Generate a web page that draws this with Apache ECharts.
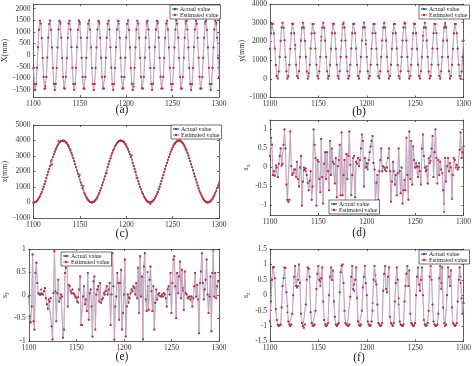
<!DOCTYPE html>
<html><head><meta charset="utf-8">
<script src="https://cdn.jsdelivr.net/npm/echarts@6/dist/echarts.min.js"></script>
<style>html,body{margin:0;padding:0;background:#fff}#c{width:474px;height:366px}</style>
</head><body><div id="c"></div>
<script>
// ---------- data ----------
const startTime = 1100;           // first sample index
const xTickValues = [1100, 1150, 1200, 1250, 1300];

const xActual = [-560,-1230,
-1490,-1245,-540,340,1095,1480,1360,742,-120,-928,-1440,-1425,-942,-105,758,1345,1490,1092,326,-555,-1232,
-1497,-1236,-552,329,1108,1476,1349,755,-108,-940,-1428,-1437,-930,-118,746,1358,1479,1106,338,-541,-1244,
-1502,-1230,-545,336,1097,1486,1344,748,-115,-932,-1436,-1430,-938,-109,753,1350,1485,1098,331,-551,-1236,
-1495,-1242,-556,330,1103,1481,1355,745,-110,-937,-1431,-1439,-933,-114,748,1354,1482,1103,336,-546,-1240,
-1498,-1237,-549,338,1099,1484,1350,752,-117,-930,-1434,-1428,-936,-111,755,1347,1487,1096,329,-553,-1234,
-1503,-1241,-544,332,1105,1479,1357,747,-113,-939,-1429,-1435,-931,-116,751,1353,1480,1101,334,-548,-1238,
-1496,-1235,-551,335,1101,1482,1346,754,-109,-934,-1437,-1431,-940,-107,749,1356,1484,1099,327,-544,-1243,
-1500,-1239,-547,331,1098,1485,1352,750,-119,-936,-1432,-1434,-935,-112,752,1349,1481,1104,333,-550,-1237,
-1494,-1240,-553,337,1102,1478,1354,746,-111,-933,-1430,-1436,-937,-110,747,1351,1486,1097,330,-547,-1241,
-1499,-1238,-546,333,1104,1483,1348,751,-114,-938];
const xEstChanges = [[1113,-1330],[1129,1420],[1150,1420],[1171,1440],[1192,1470],[1208,-1360],[1222,1440],[1234,1440],[1264,1450],[1285,1430],[1297,1420]];

const yActual = [1605,2441,
2925,2940,2428,1620,742,155,22,393,1172,2041,2746,2992,2733,2055,1159,407,12,143,757,1606,2442,
2938,2927,2441,1605,756,141,25,406,1160,2053,2731,2996,2745,2040,1173,395,19,152,745,1618,2429,
2930,2936,2432,1616,748,150,14,398,1168,2045,2742,3004,2736,2051,1162,403,21,146,753,1609,2438,
2941,2929,2438,1608,753,144,20,404,1163,2050,2735,2995,2741,2044,1170,398,15,151,747,1615,2432,
2927,2938,2430,1614,745,153,17,397,1169,2043,2744,3001,2738,2049,1164,405,18,148,755,1610,2440,
2936,2931,2440,1607,751,146,23,402,1165,2047,2737,2997,2743,2046,1167,400,13,154,749,1613,2434,
2929,2935,2433,1617,744,151,16,399,1171,2042,2740,3003,2735,2052,1161,404,20,145,752,1608,2437,
2939,2928,2436,1611,754,147,21,401,1164,2049,2745,2994,2740,2043,1169,397,14,150,746,1616,2431,
2932,2937,2439,1606,747,152,18,405,1167,2044,2738,2999,2737,2048,1166,402,22,147,751,1611,2436,
2934,2930,2431,1614,750,149,19,396,1170,2046];
const yEstChanges = [[1126,1800],[1140,300],[1153,2250],[1175,2900],[1199,1850],[1240,2950],[1258,2300],[1281,2850]];

const zActual = [5,-2,25,60,126,198,301,409,545,683,848,1012,1197,1379,1579,1771,1978,2173,2378,2567,
2763,2938,3117,3272,3426,3554,3678,3773,3863,3921,3972,3991,4002,3981,3952,3891,3823,3725,3621,3489,
3354,3194,3032,2849,2668,2470,2279,2072,1877,1672,1481,1284,1106,925,767,610,478,350,250,157,93,37,13,-3,
12,37,93,157,250,350,478,610,767,925,1106,1284,1481,1672,1877,2072,2279,2470,2668,2849,
3032,3194,3354,3489,3621,3725,3823,3891,3952,3981,4002,3991,3972,3921,3863,3773,3678,3554,3426,3272,
3117,2938,2763,2567,2378,2173,1978,1771,1579,1379,1197,1012,848,683,545,409,301,198,126,60,25,5,
1,24,61,125,199,300,410,544,684,847,1014,1195,1380,1578,1772,1976,2175,2377,2568,2762,
2940,3115,3274,3424,3556,3676,3775,3861,3923,3970,3993,4000,3983,3950,3893,3821,3727,3619,3491,3352,
3196,3030,2851,2666,2472,2277,2074,1875,1674,1479,1286,1104,927,765,612,476,352,248,159,91,39,11,1,
11,41,89,161,246,354,474,614,763,929,1102,1288];
const zEstChanges = [[1119,2700],[1120,2430],[1127,3960],[1150,1790],[1154,1050],[1179,1900],[1206,3050],[1211,1600],[1226,-90]];

const sxActual = [
0.30,0.78,0.60,-0.20,-0.10,-0.22,0.05,0.00,-0.25,0.10,
0.30,0.50,0.05,0.10,0.60,1.00,0.50,-0.45,-0.85,-0.90,
-0.85,0.95,0.03,-0.20,-0.15,-0.05,-0.05,-0.25,0.15,-0.30,
-0.50,0.00,0.30,-1.00,-0.37,0.00,-0.05,-0.10,-0.20,-0.40,
-0.60,-0.35,-0.10,-0.85,-0.50,1.00,0.60,0.25,-1.00,0.20,
0.15,-0.30,-0.65,0.75,-0.25,-0.95,0.10,0.40,-0.30,0.40,
-0.10,-0.60,0.70,-0.20,0.50,0.15,0.10,-0.42,0.25,-0.78,
0.03,0.20,0.60,-0.73,0.92,-0.73,-0.20,0.20,-0.90,0.35,
-0.30,0.30,0.95,0.07,-0.73,-0.20,0.25,0.30,-0.78,0.15,
0.10,0.25,0.03,0.20,0.50,0.87,0.70,-0.50,0.25,0.00,
0.12,-0.05,0.20,0.40,0.55,0.70,0.83,0.12,-0.05,-0.95,
-0.40,-0.20,-0.85,-0.10,0.20,0.50,-0.10,0.03,0.00,-0.05,
-0.10,0.00,0.25,0.50,-0.10,-0.90,-0.37,0.15,-0.10,-0.45,
-0.20,-0.73,-0.15,0.50,-0.10,-0.68,0.00,-0.95,-0.60,-0.33,
-0.60,0.78,-0.20,-0.85,0.95,-0.30,0.70,-0.45,0.55,0.20,
0.00,0.12,0.03,-0.25,0.12,-0.10,-0.45,0.50,0.87,0.30,
0.00,-0.10,0.03,-0.42,0.25,0.12,0.30,0.50,0.83,-0.25,
0.40,1.00,0.25,-0.42,0.20,-0.20,0.15,-0.05,-0.15,-0.60,
-0.95,0.25,-0.37,0.03,0.25,-0.10,0.12,0.00,-0.82,-0.20,
0.25,0.20,0.00,0.07,-0.05,0.00,0.47,0.92,0.25,0.40,
0.55];
const sxEstChanges = [[1135,-0.08],[1137,-0.02],[1200,0.02],[1201,0.10],[1251,0.00],[1254,0.02],[1262,-0.06],[1266,0.18],[1280,-1.17]];

const syActual = [
-0.03,-0.46,-0.60,-0.25,0.88,-0.57,-0.75,0.48,0.70,0.26,
0.04,0.02,0.00,0.04,0.02,0.01,0.08,0.15,-0.07,-0.20,
-0.30,-0.10,-0.14,-0.07,-0.68,-0.97,0.04,0.95,0.08,-0.57,
0.04,0.33,-0.14,-0.07,0.01,-0.03,-0.93,-0.75,0.48,0.59,
0.84,-0.25,0.22,0.19,0.08,0.04,0.12,0.03,0.01,-0.03,
-0.06,-0.14,-0.17,0.12,0.40,-0.65,-0.65,-0.03,0.19,-0.20,
-0.10,-0.35,0.48,-0.54,0.04,0.12,-0.25,-0.90,0.30,0.40,
-0.75,0.01,0.12,0.19,-0.14,0.26,-0.17,-0.10,-0.07,0.05,
0.01,0.08,0.19,0.01,0.12,0.26,-0.65,0.01,0.91,0.19,
-0.97,-0.25,-0.03,0.48,0.26,-0.54,0.26,0.55,-0.75,-0.39,
0.01,0.77,-0.90,-0.25,0.01,-0.17,-0.07,0.04,0.12,0.08,
0.19,0.15,0.01,0.26,-0.07,0.59,-0.39,0.84,-0.03,0.40,
-0.97,0.62,0.91,-0.10,-0.35,0.19,-0.32,0.33,0.62,0.08,
-0.35,0.19,-0.75,-0.17,0.12,-0.10,0.01,0.04,-0.02,-0.03,
0.01,-0.03,0.04,0.01,-0.07,-0.25,0.12,0.19,0.01,0.48,
-0.39,0.26,0.77,0.84,0.19,-0.50,0.48,0.04,0.40,0.73,
-0.07,0.55,0.15,-0.32,0.51,0.04,0.01,-0.07,-0.05,-0.03,
-0.10,-0.03,-0.25,-0.07,0.19,0.48,-0.03,0.22,-0.10,-0.83,
0.26,0.51,0.91,0.26,-0.10,0.12,0.33,0.77,0.01,-0.39,
-0.03,0.40,-0.79,0.48,0.98,-0.03,0.48,-0.07,0.19,0.30,
0.30];
const syEstChanges = [[1113,0.12],[1152,-0.05],[1205,-0.05],[1225,0.50],[1262,0.10]];

const szActual = [
-0.85,-0.20,0.50,0.90,0.92,0.55,-0.45,-0.80,-0.95,-1.00,
-0.97,-0.95,-0.40,0.30,0.55,0.90,0.88,0.10,-0.35,-0.85,
-0.95,-1.00,-0.95,-0.60,0.00,0.60,0.95,0.30,0.25,0.30,
1.00,0.40,-0.60,-0.90,-1.00,-1.05,-0.95,-0.30,0.50,0.90,
0.85,0.60,-0.55,-0.90,-0.97,-1.00,-0.95,-0.50,0.20,0.70,
0.95,0.50,0.30,0.55,0.90,-0.20,-0.80,-0.95,-1.00,-0.97,
-0.90,0.00,0.60,0.90,0.50,0.80,-0.20,-0.70,-0.95,-1.00,
-0.95,-0.90,0.10,0.75,0.95,1.00,0.40,-0.50,-0.90,-0.95,
-0.97,-1.00,-0.95,-0.05,0.60,0.95,0.20,0.15,0.50,0.90,
-0.10,-0.85,-0.97,-1.00,-0.95,-0.50,0.25,0.60,0.95,0.40,
0.00,-0.85,-0.95,-1.00,-0.97,-0.85,-0.25,0.50,0.95,0.65,
0.35,-0.30,-0.90,-0.95,-1.00,-0.97,-0.90,0.15,0.70,0.95,
0.20,0.10,0.60,0.90,-0.70,-0.90,-0.95,-1.00,-0.90,-0.20,
0.40,0.90,0.50,-0.30,-0.85,-0.95,-0.97,-1.00,-0.95,-0.20,
0.30,0.70,0.95,0.30,0.80,-0.60,-0.90,-0.95,-1.00,-0.97,
-0.90,0.00,0.60,0.90,0.35,0.15,0.50,0.90,0.00,-0.80,
-0.95,-1.00,-0.97,-0.90,-0.50,0.60,0.95,0.50,-0.30,-0.85,
-0.95,-1.00,-0.97,-0.95,-0.60,0.55,0.95,0.20,0.90,-0.40,
-0.90,-1.00,-0.95,0.00,0.90,0.60,0.30,0.80,-0.40,-0.90,
-0.95,-1.00,-0.97,-0.90,-0.20,0.50,0.90,0.60,-0.10,-0.60,
-0.25];
const szEstChanges = [[1118,-0.55],[1129,0.50],[1152,0.45],[1187,0.35],[1206,-0.50],[1209,0.45],[1233,-0.10],[1277,0.40],[1297,0.40]];

const yTicksA = [-1500,-1000,-500,0,500,1000,1500,2000];
const yTicksB = [-1000,0,1000,2000,3000,4000];
const yTicksC = [-1000,0,1000,2000,3000,4000,5000];
const yTicksD = [-1,-0.5,0,0.5,1];
const yTicksE = [-1,-0.5,0,0.5,1];
const yTicksF = [-1.5,-1,-0.5,0,0.5,1,1.5];
const seriesNames = ['Actual value', 'Estimated value'];
const captions = ['(a)','(b)','(c)','(d)','(e)','(f)'];
const axisNames = ['X(mm)','y(mm)','z(mm)','{m|s}{s|x}','{m|s}{s|y}','{m|s}{s|z}'];

// ---------- layout / style ----------
const FONT = '"Liberation Serif","Times New Roman",serif';
const AX = '#3a3a3a';
const panels = [
  {act:xActual, chg:xEstChanges, ticks:yTicksA, min:-1800, max:2200, grid:{left:25,top:4,width:194,height:93}, gap:16, leg:{left:170,top:5}, cap:[122,110]},
  {act:yActual, chg:yEstChanges, ticks:yTicksB, min:-1000, max:4000, grid:{left:270,top:4,width:196,height:93.5}, gap:17, leg:{left:419,top:5}, cap:[359,112]},
  {act:zActual, chg:zEstChanges, ticks:yTicksC, min:-1000, max:5000, grid:{left:25,top:125,width:194,height:93}, gap:16, leg:{left:171,top:125}, cap:[122,234]},
  {act:sxActual, chg:sxEstChanges, ticks:yTicksD, min:-1.25, max:1.25, grid:{left:270,top:120,width:196,height:95}, gap:10, leg:{left:329,top:200}, cap:[359,233]},
  {act:syActual, chg:syEstChanges, ticks:yTicksE, min:-1, max:1, grid:{left:25,top:249,width:194,height:92}, gap:18, leg:{left:61,top:252}, cap:[122,357]},
  {act:szActual, chg:szEstChanges, ticks:yTicksF, min:-1.5, max:1.5, grid:{left:270,top:249,width:196,height:92.5}, gap:13, leg:{left:419,top:250}, cap:[359,358]}
];

const grids = [], xAxes = [], yAxes = [], series = [], legends = [], graphics = [];
const fmt = v => String(v);
panels.forEach((p, i) => {
  grids.push(Object.assign({containLabel:false}, p.grid));
  const lineSt = {color:AX, width:0.8};
  const tickBase = {show:true, inside:true, length:2, lineStyle:lineSt};
  xAxes.push({gridIndex:i, type:'value', position:'bottom', min:1100, max:1300, interval:50,
    axisLine:{show:true, onZero:false, lineStyle:lineSt}, axisTick:tickBase, splitLine:{show:false},
    axisLabel:{show:true, formatter:fmt, fontSize:7.5, fontFamily:FONT, color:'#333', margin:3}});
  xAxes.push({gridIndex:i, type:'value', position:'top', min:1100, max:1300, interval:50,
    axisLine:{show:true, onZero:false, lineStyle:lineSt}, axisTick:tickBase, splitLine:{show:false}, axisLabel:{show:false}});
  yAxes.push({gridIndex:i, type:'value', position:'left', min:p.min, max:p.max,
    axisLine:{show:true, onZero:false, lineStyle:lineSt}, axisTick:Object.assign({customValues:p.ticks}, tickBase), splitLine:{show:false},
    axisLabel:{show:true, customValues:p.ticks, formatter:fmt, fontSize:7.5, fontFamily:FONT, color:'#333', margin:3},
    name:axisNames[i], nameLocation:'middle', nameGap:p.gap,
    nameTextStyle:{fontSize:8, fontFamily:FONT, color:'#333',
      rich:{m:{fontSize:8, fontFamily:FONT, color:'#333'}, s:{fontSize:5.5, fontFamily:FONT, color:'#333', padding:[4,0,0,0]}}}});
  yAxes.push({gridIndex:i, type:'value', position:'right', min:p.min, max:p.max,
    axisLine:{show:true, onZero:false, lineStyle:lineSt}, axisTick:Object.assign({customValues:p.ticks}, tickBase), splitLine:{show:false}, axisLabel:{show:false}});

  const actData = p.act.map((v, k) => [startTime + k, v]);
  const estVals = p.act.slice();
  p.chg.forEach(([t, v]) => { estVals[t - startTime] = v; });
  const estData = estVals.map((v, k) => [startTime + k, v]);
  series.push({type:'line', name:seriesNames[0], xAxisIndex:2*i, yAxisIndex:2*i, data:actData,
    symbol:'circle', symbolSize:2, showSymbol:true, z:2,
    lineStyle:{width:0.8, color:'#8797d0'}, itemStyle:{color:'#2a55a8'}});
  series.push({type:'line', name:seriesNames[1], xAxisIndex:2*i, yAxisIndex:2*i, data:estData,
    symbol:'circle', symbolSize:2, showSymbol:true, z:3,
    lineStyle:{width:0.7, color:'#e4a0a8', opacity:0.8}, itemStyle:{color:'#d02a2a'}});
  legends.push({show:true, left:p.leg.left, top:p.leg.top, orient:'vertical', data:seriesNames,
    itemWidth:6, itemHeight:3, itemGap:0, padding:[1,2,1,1], selectedMode:false,
    textStyle:{fontSize:6, fontFamily:FONT, color:'#222', padding:[0,0,0,-3]},
    borderColor:'#333', borderWidth:0.7, backgroundColor:'#fff'});
  graphics.push({type:'text', x:p.cap[0], y:p.cap[1],
    style:{text:captions[i], fontSize:11.5, fontFamily:FONT, fill:'#222', align:'center', verticalAlign:'middle'}});
});

const chart = echarts.init(document.getElementById('c'), null, {renderer:'canvas'});
chart.setOption({
  animation:false, backgroundColor:'#fff',
  grid:grids, xAxis:xAxes, yAxis:yAxes, series:series, legend:legends, graphic:graphics
});
</script></body></html>
